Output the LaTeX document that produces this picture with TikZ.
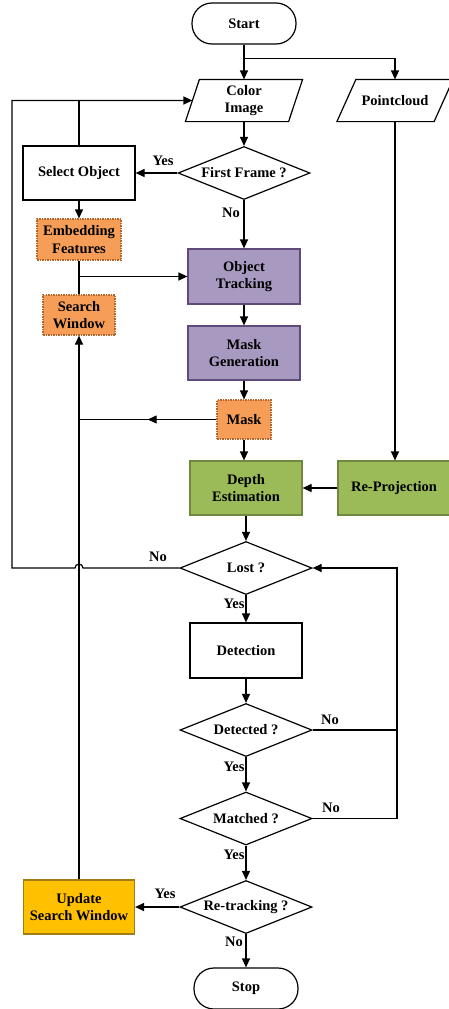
\documentclass[tikz,border=0pt]{standalone}
\usepackage{fontspec}
\setmainfont{Liberation Serif}
\usetikzlibrary{shapes.geometric,arrows.meta,decorations.markings}
\definecolor{purF}{RGB}{168,153,193}
\definecolor{purD}{RGB}{96,74,123}
\definecolor{grnF}{RGB}{155,187,89}
\definecolor{grnD}{RGB}{113,137,63}
\definecolor{orgF}{RGB}{246,158,88}
\definecolor{orgD}{RGB}{182,100,40}
\definecolor{gldF}{RGB}{255,192,0}
\definecolor{gldD}{RGB}{160,124,20}
\begin{document}
\begin{tikzpicture}[x=1pt,y=-1pt,
  font=\fontsize{14.5}{17.5}\selectfont\bfseries,
  line width=1.2pt,
  >={Triangle[length=9pt,width=8pt]},
  box/.style={draw, rectangle, inner sep=0pt, align=center},
  term/.style={draw, rectangle, rounded corners=20pt, minimum width=104pt, minimum height=41pt, inner sep=0pt},
  dec/.style={draw, diamond, aspect=2.5, inner sep=0pt, minimum width=132pt, minimum height=53pt},
  io/.style={rectangle, inner sep=0pt, align=center, minimum height=41pt},
  purbox/.style={box, fill=purF, draw=purD, minimum width=112pt},
  grnbox/.style={box, fill=grnF, draw=grnD, minimum width=112pt, minimum height=54pt},
  orgbox/.style={box, fill=orgF, draw=orgD, dash pattern=on 1.5pt off 1pt},
  lbl/.style={inner sep=0pt},
  midarrow/.style={postaction={decorate}, decoration={markings, mark=at position 0.5 with {\arrow{>}}}}
]
\useasboundingbox (0,0) rectangle (448,1009);
\fill[white] (0,0) rectangle (448,1009);

% nodes
\node[term] (start) at (244,23.5) {Start};
\node[io, minimum width=102pt] (ci) at (244,100.5) {Color\\Image};
\draw ([xshift=7pt]ci.north west) -- ([xshift=7pt]ci.north east) -- ([xshift=-7pt]ci.south east) -- ([xshift=-7pt]ci.south west) -- cycle;
\node[io, minimum width=96pt] (pc) at (395,100.5) {Pointcloud};
\draw ([xshift=9.5pt]pc.north west) -- ([xshift=9.5pt]pc.north east) -- ([xshift=-9.5pt]pc.south east) -- ([xshift=-9.5pt]pc.south west) -- cycle;
\node[dec] (ff) at (244,173) {First Frame ?};
\node[box, minimum width=112pt, minimum height=54pt] (sel) at (79,173) {Select Object};
\node[orgbox, minimum width=84pt, minimum height=41pt] (ef) at (79,239.5) {Embedding\\Features};
\node[orgbox, minimum width=72pt, minimum height=40pt] (sw) at (79,315) {Search\\Window};
\node[purbox, minimum height=55pt] (ot) at (244,276.5) {Object\\Tracking};
\node[purbox, minimum height=54pt] (mg) at (244,353) {Mask\\Generation};
\node[orgbox, minimum width=54pt, minimum height=39pt] (mask) at (244,419.5) {Mask};
\node[grnbox] (de) at (246,488) {Depth\\Estimation};
\node[grnbox] (rp) at (394,488) {Re-Projection};
\node[dec] (lost) at (246,568) {Lost ?};
\node[box, minimum width=112pt, minimum height=55pt] (detn) at (246,650.5) {Detection};
\node[dec] (det) at (246,730) {Detected ?};
\node[dec] (mat) at (246,818.5) {Matched ?};
\node[dec] (ret) at (246,907) {Re-tracking ?};
\node[box, fill=gldF, draw=gldD, minimum width=111pt, minimum height=54pt] (usw) at (79,907) {Update\\Search Window};
\node[term] (stop) at (246,988.5) {Stop};

\coordinate (lx) at (12,0);
\coordinate (rx) at (397,0);
\coordinate (j0) at (244,58.5);

% connectors
\draw[->] (start.south) -- (ci.north);
\draw[->] (start.south |- j0) -| (pc.north);
\draw[->] (ci.south) -- (ff.north);
\draw[->] (ff.west) -- (sel.east);
\draw[->] (ff.south) -- (ot.north);
\draw (sel.north) -- (sel.north |- ci.west);
\draw[->] (sel.south) -- (ef.north);
\draw (ef.south) -- (sw.north);
\draw[->] (ef.south |- ot.west) -- (ot.west);
\draw[->] (ot.south) -- (mg.north);
\draw[->] (mg.south) -- (mask.north);
\draw[midarrow] (mask.west) -- (sw.south |- mask.west);
\draw[->] (mask.south) -- (mask.south |- de.north);
\draw[->] (pc.south) -- (pc.south |- rp.north);
\draw[->] (rp.west) -- (de.east);
\draw[->] (de.south) -- (lost.north);
\draw[->] (lost.west) -- ([xshift=4pt]sw.south |- lost.west) arc[start angle=0, end angle=180, radius=4pt] -- (lx |- lost.west) -- (lx |- ci.west) -- (ci.west);
\draw[->] (lost.south) -- (detn.north);
\draw[->] (detn.south) -- (det.north);
\draw[->] (det.south) -- (mat.north);
\draw[->] (mat.south) -- (ret.north);
\draw[->] (ret.south) -- (stop.north);
\draw[->] (ret.west) -- (usw.east);
\draw[->] (usw.north) -- (sw.south);
\draw (det.east) -- (det.east -| rx);
\draw[->] (mat.east) -- (mat.east -| rx) -- (lost.east -| rx) -- (lost.east);

% labels
\node[lbl] (l1) at (163,161) {Yes};
\node[lbl] (l2) at (231,213) {No};
\node[lbl] (l3) at (158,557) {No};
\node[lbl] (l4) at (234,604) {Yes};
\node[lbl] (l5) at (330,720) {No};
\node[lbl] (l6) at (234,767) {Yes};
\node[lbl] (l7) at (331,808) {No};
\node[lbl] (l8) at (234,855) {Yes};
\node[lbl] (l9) at (165,894) {Yes};
\node[lbl] (l10) at (234,942) {No};
\end{tikzpicture}
\end{document}
